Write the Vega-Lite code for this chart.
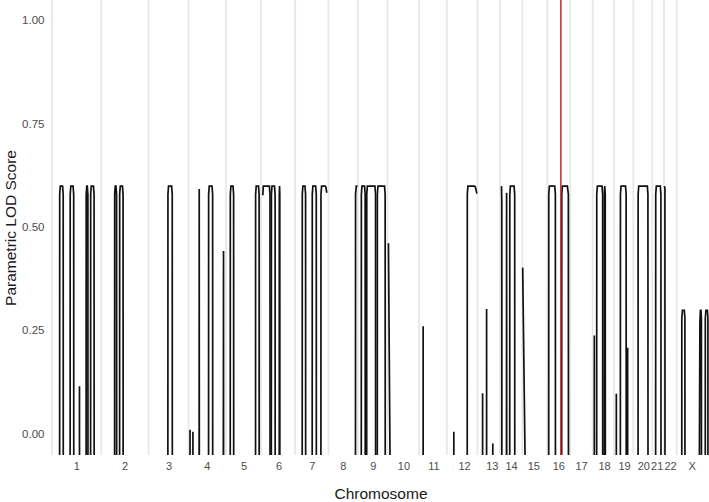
{
 "$schema": "https://vega.github.io/schema/vega-lite/v6.json",
 "width": 657, "height": 455,
 "autosize": {"type": "none"},
 "padding": {"left": 52, "top": 0, "right": 0, "bottom": 47},
 "background": "white",
 "config": {"view": {"stroke": null}, "font": "Liberation Sans", "axis": {"labelOverlap": false}},
 "datasets": {
  "bounds": [{"pos":51.7},{"pos":101},{"pos":148.3},{"pos":188.3},{"pos":225.7},{"pos":260.7},{"pos":295},{"pos":328.3},{"pos":357.7},{"pos":387.3},{"pos":419},{"pos":446.7},{"pos":477.3},{"pos":500},{"pos":522.3},{"pos":547.3},{"pos":570},{"pos":592.7},{"pos":614},{"pos":633.3},{"pos":652.3},{"pos":664},{"pos":676.7}],
  "marker": [{"pos":560.8}],
  "trace": [
   {"seg":1,"pos":59,"lod":-3},{"seg":1,"pos":59.4,"lod":0.58},{"seg":1,"pos":60,"lod":0.6},{"seg":1,"pos":62.3,"lod":0.6},{"seg":1,"pos":62.9,"lod":0.58},{"seg":1,"pos":63.3,"lod":-3},
   {"seg":2,"pos":69.5,"lod":-3},{"seg":2,"pos":69.9,"lod":0.58},{"seg":2,"pos":70.5,"lod":0.6},{"seg":2,"pos":72.8,"lod":0.6},{"seg":2,"pos":73.4,"lod":0.58},{"seg":2,"pos":73.8,"lod":-3},
   {"seg":3,"pos":79,"lod":-3},{"seg":3,"pos":79.2,"lod":0.116},{"seg":3,"pos":79.4,"lod":-3},
   {"seg":4,"pos":85.5,"lod":-3},{"seg":4,"pos":85.9,"lod":0.58},{"seg":4,"pos":86.5,"lod":0.6},{"seg":4,"pos":87,"lod":0.6},{"seg":4,"pos":87.6,"lod":0.58},{"seg":4,"pos":88,"lod":-3},
   {"seg":5,"pos":90,"lod":-3},{"seg":5,"pos":90.4,"lod":0.58},{"seg":5,"pos":91,"lod":0.6},{"seg":5,"pos":93.2,"lod":0.6},{"seg":5,"pos":93.8,"lod":0.58},{"seg":5,"pos":94.2,"lod":-3},
   {"seg":6,"pos":114,"lod":-3},{"seg":6,"pos":114.4,"lod":0.58},{"seg":6,"pos":115,"lod":0.6},{"seg":6,"pos":115.7,"lod":0.6},{"seg":6,"pos":116.3,"lod":0.58},{"seg":6,"pos":116.7,"lod":-3},
   {"seg":7,"pos":119,"lod":-3},{"seg":7,"pos":119.4,"lod":0.58},{"seg":7,"pos":120,"lod":0.6},{"seg":7,"pos":122.2,"lod":0.6},{"seg":7,"pos":122.8,"lod":0.58},{"seg":7,"pos":123.2,"lod":-3},
   {"seg":8,"pos":167.3,"lod":-3},{"seg":8,"pos":167.7,"lod":0.58},{"seg":8,"pos":168.3,"lod":0.6},{"seg":8,"pos":171.4,"lod":0.6},{"seg":8,"pos":172,"lod":0.58},{"seg":8,"pos":172.4,"lod":-3},
   {"seg":9,"pos":189.6,"lod":-3},{"seg":9,"pos":189.8,"lod":0.011},{"seg":9,"pos":190,"lod":-3},
   {"seg":10,"pos":192.5,"lod":-3},{"seg":10,"pos":192.7,"lod":0.006},{"seg":10,"pos":192.9,"lod":-3},
   {"seg":11,"pos":198.5,"lod":-3},{"seg":11,"pos":199,"lod":0.593},{"seg":11,"pos":199.5,"lod":-3},
   {"seg":12,"pos":208,"lod":-3},{"seg":12,"pos":208.4,"lod":0.58},{"seg":12,"pos":209,"lod":0.6},{"seg":12,"pos":211.8,"lod":0.6},{"seg":12,"pos":212.4,"lod":0.58},{"seg":12,"pos":212.8,"lod":-3},
   {"seg":13,"pos":222,"lod":-3},{"seg":13,"pos":223.3,"lod":0.443},{"seg":13,"pos":223.6,"lod":-3},
   {"seg":14,"pos":229.7,"lod":-3},{"seg":14,"pos":230.1,"lod":0.58},{"seg":14,"pos":230.7,"lod":0.6},{"seg":14,"pos":232.8,"lod":0.6},{"seg":14,"pos":233.4,"lod":0.58},{"seg":14,"pos":233.8,"lod":-3},
   {"seg":15,"pos":255,"lod":-3},{"seg":15,"pos":255.4,"lod":0.58},{"seg":15,"pos":256,"lod":0.6},{"seg":15,"pos":258.3,"lod":0.6},{"seg":15,"pos":258.9,"lod":0.58},{"seg":15,"pos":259.3,"lod":-3},
   {"seg":16,"pos":262.6,"lod":0.578},{"seg":16,"pos":263.1,"lod":0.6},{"seg":16,"pos":269.2,"lod":0.6},{"seg":16,"pos":269.8,"lod":0.58},{"seg":16,"pos":270.1,"lod":-3},
   {"seg":17,"pos":270.8,"lod":-3},{"seg":17,"pos":271.2,"lod":0.58},{"seg":17,"pos":271.8,"lod":0.6},{"seg":17,"pos":274.3,"lod":0.6},{"seg":17,"pos":274.9,"lod":0.58},{"seg":17,"pos":275.3,"lod":-3},
   {"seg":18,"pos":278.8,"lod":-3},{"seg":18,"pos":279.1,"lod":0.58},{"seg":18,"pos":279.35,"lod":0.6},{"seg":18,"pos":279.6,"lod":0.58},{"seg":18,"pos":279.9,"lod":-3},
   {"seg":19,"pos":301.7,"lod":-3},{"seg":19,"pos":302.1,"lod":0.58},{"seg":19,"pos":302.7,"lod":0.6},{"seg":19,"pos":304.8,"lod":0.6},{"seg":19,"pos":305.4,"lod":0.58},{"seg":19,"pos":305.8,"lod":-3},
   {"seg":20,"pos":311.7,"lod":-3},{"seg":20,"pos":312.1,"lod":0.58},{"seg":20,"pos":312.7,"lod":0.6},{"seg":20,"pos":315.5,"lod":0.6},{"seg":20,"pos":316.1,"lod":0.58},{"seg":20,"pos":316.5,"lod":-3},
   {"seg":21,"pos":320.4,"lod":-3},{"seg":21,"pos":320.8,"lod":0.58},{"seg":21,"pos":321.4,"lod":0.6},{"seg":21,"pos":325,"lod":0.6},{"seg":21,"pos":325.8,"lod":0.597},{"seg":21,"pos":326.3,"lod":0.588},{"seg":21,"pos":326.7,"lod":0.584},
   {"seg":22,"pos":355,"lod":-3},{"seg":22,"pos":355.4,"lod":0.58},{"seg":22,"pos":356.1,"lod":0.6},{"seg":22,"pos":357.4,"lod":0.6},
   {"seg":23,"pos":360.8,"lod":-3},{"seg":23,"pos":361.2,"lod":0.58},{"seg":23,"pos":361.8,"lod":0.6},{"seg":23,"pos":364.4,"lod":0.6},{"seg":23,"pos":365,"lod":0.58},{"seg":23,"pos":365.4,"lod":-3},
   {"seg":24,"pos":366.2,"lod":-3},{"seg":24,"pos":366.6,"lod":0.58},{"seg":24,"pos":367.2,"lod":0.6},{"seg":24,"pos":374.8,"lod":0.6},{"seg":24,"pos":375.4,"lod":0.58},{"seg":24,"pos":375.8,"lod":-3},
   {"seg":25,"pos":376.8,"lod":-3},{"seg":25,"pos":377.2,"lod":0.58},{"seg":25,"pos":377.8,"lod":0.6},{"seg":25,"pos":384.4,"lod":0.6},{"seg":25,"pos":385,"lod":0.58},{"seg":25,"pos":385.4,"lod":-3},
   {"seg":26,"pos":388.3,"lod":0.462},{"seg":26,"pos":390,"lod":-0.1},{"seg":26,"pos":390.1,"lod":-3},
   {"seg":27,"pos":422.8,"lod":-3},{"seg":27,"pos":423,"lod":0.261},{"seg":27,"pos":423.2,"lod":-3},
   {"seg":28,"pos":453.5,"lod":-3},{"seg":28,"pos":453.7,"lod":0.006},{"seg":28,"pos":453.9,"lod":-3},
   {"seg":29,"pos":466.8,"lod":-3},{"seg":29,"pos":467.2,"lod":0.58},{"seg":29,"pos":467.8,"lod":0.6},{"seg":29,"pos":474.6,"lod":0.6},{"seg":29,"pos":475.5,"lod":0.596},{"seg":29,"pos":476.2,"lod":0.588},{"seg":29,"pos":476.8,"lod":0.582},
   {"seg":30,"pos":482.3,"lod":-3},{"seg":30,"pos":482.5,"lod":0.099},{"seg":30,"pos":482.7,"lod":-3},
   {"seg":31,"pos":486.3,"lod":-3},{"seg":31,"pos":486.5,"lod":0.303},{"seg":31,"pos":486.7,"lod":-3},
   {"seg":32,"pos":492.5,"lod":-3},{"seg":32,"pos":492.7,"lod":-0.022},{"seg":32,"pos":492.9,"lod":-3},
   {"seg":33,"pos":501.4,"lod":0.6},{"seg":33,"pos":501.7,"lod":0.565},{"seg":33,"pos":502,"lod":-3},
   {"seg":34,"pos":505.9,"lod":-3},{"seg":34,"pos":506.5,"lod":0.584},{"seg":34,"pos":507.1,"lod":-3},
   {"seg":35,"pos":509.3,"lod":-3},{"seg":35,"pos":509.7,"lod":0.58},{"seg":35,"pos":510.3,"lod":0.6},{"seg":35,"pos":514,"lod":0.6},{"seg":35,"pos":514.6,"lod":0.58},{"seg":35,"pos":515,"lod":-3},
   {"seg":36,"pos":522.6,"lod":0.403},{"seg":36,"pos":525,"lod":-0.06},{"seg":36,"pos":525.1,"lod":-3},
   {"seg":37,"pos":548.3,"lod":-3},{"seg":37,"pos":548.7,"lod":0.58},{"seg":37,"pos":549.3,"lod":0.6},{"seg":37,"pos":554.7,"lod":0.6},{"seg":37,"pos":555.3,"lod":0.58},{"seg":37,"pos":555.7,"lod":-3},
   {"seg":38,"pos":561.3,"lod":-3},{"seg":38,"pos":561.7,"lod":0.58},{"seg":38,"pos":562.3,"lod":0.6},{"seg":38,"pos":567.3,"lod":0.6},{"seg":38,"pos":568.3,"lod":0.58},{"seg":38,"pos":568.8,"lod":-3},
   {"seg":39,"pos":594.1,"lod":-3},{"seg":39,"pos":594.3,"lod":0.239},{"seg":39,"pos":594.5,"lod":-3},
   {"seg":40,"pos":596.3,"lod":-3},{"seg":40,"pos":596.7,"lod":0.58},{"seg":40,"pos":597.3,"lod":0.6},{"seg":40,"pos":602,"lod":0.6},{"seg":40,"pos":602.6,"lod":0.58},{"seg":40,"pos":603,"lod":-3},
   {"seg":41,"pos":603.8,"lod":-3},{"seg":41,"pos":604.2,"lod":0.58},{"seg":41,"pos":604.7,"lod":0.6},{"seg":41,"pos":605.2,"lod":0.58},{"seg":41,"pos":605.6,"lod":-3},
   {"seg":42,"pos":616.1,"lod":-3},{"seg":42,"pos":616.3,"lod":0.098},{"seg":42,"pos":616.5,"lod":-3},
   {"seg":43,"pos":620,"lod":-3},{"seg":43,"pos":620.4,"lod":0.58},{"seg":43,"pos":621,"lod":0.6},{"seg":43,"pos":625.5,"lod":0.6},{"seg":43,"pos":626.1,"lod":0.58},{"seg":43,"pos":626.5,"lod":-3},
   {"seg":44,"pos":627.4,"lod":-3},{"seg":44,"pos":627.6,"lod":0.209},{"seg":44,"pos":627.8,"lod":-3},
   {"seg":45,"pos":637.7,"lod":-3},{"seg":45,"pos":638.1,"lod":0.58},{"seg":45,"pos":638.7,"lod":0.6},{"seg":45,"pos":647.3,"lod":0.6},{"seg":45,"pos":647.9,"lod":0.58},{"seg":45,"pos":648.3,"lod":-3},
   {"seg":46,"pos":655.3,"lod":-3},{"seg":46,"pos":655.7,"lod":0.58},{"seg":46,"pos":656.3,"lod":0.6},{"seg":46,"pos":660.3,"lod":0.6},{"seg":46,"pos":660.9,"lod":0.58},{"seg":46,"pos":661.3,"lod":-3},
   {"seg":47,"pos":664.4,"lod":0.6},{"seg":47,"pos":664.9,"lod":0.595},{"seg":47,"pos":665.3,"lod":-3},
   {"seg":48,"pos":681.5,"lod":-3},{"seg":48,"pos":681.8,"lod":0.28},{"seg":48,"pos":682.4,"lod":0.3},{"seg":48,"pos":684.3,"lod":0.3},{"seg":48,"pos":684.9,"lod":0.28},{"seg":48,"pos":685.3,"lod":-3},
   {"seg":49,"pos":699,"lod":-0.3},{"seg":49,"pos":699.9,"lod":0.27},{"seg":49,"pos":700.4,"lod":0.3},{"seg":49,"pos":701,"lod":0.3},{"seg":49,"pos":701.4,"lod":0.28},{"seg":49,"pos":701.8,"lod":-3},
   {"seg":50,"pos":705,"lod":-3},{"seg":50,"pos":705.3,"lod":0.28},{"seg":50,"pos":705.9,"lod":0.3},{"seg":50,"pos":707.4,"lod":0.3},{"seg":50,"pos":707.9,"lod":0.28},{"seg":50,"pos":708.3,"lod":-3}
  ]
 },
 "encoding": {
  "x": {
   "field": "pos", "type": "quantitative",
   "scale": {"domain": [51.7, 709], "nice": false, "zero": false},
   "axis": {
    "title": "Chromosome",
    "values": [76, 124.3, 168.3, 206.7, 243.3, 278.3, 311.7, 342.7, 372.7, 403.3, 433.3, 464, 491.7, 511, 533.3, 558.3, 581, 604, 624, 643.3, 656.7, 670, 691.7],
    "labelExpr": "['1','2','3','4','5','6','7','8','9','10','11','12','13','14','15','16','17','18','19','20','21','22','X'][indexof([76, 124.3, 168.3, 206.7, 243.3, 278.3, 311.7, 342.7, 372.7, 403.3, 433.3, 464, 491.7, 511, 533.3, 558.3, 581, 604, 624, 643.3, 656.7, 670, 691.7], datum.value)]",
    "domain": false, "ticks": false, "grid": false,
    "labelOverlap": false, "labelBound": false, "labelFlush": false,
    "labelFontSize": 11, "labelColor": "#4d4d4d", "labelPadding": 5,
    "titleFontSize": 15.5, "titleFontWeight": "normal", "titleColor": "#1a1a1a", "titlePadding": 15
   }
  }
 },
 "layer": [
  {
   "data": {"name": "bounds"},
   "mark": {"type": "rule", "color": "#e8e8e8", "strokeWidth": 1.8}
  },
  {
   "data": {"name": "trace"},
   "mark": {"type": "line", "clip": true, "color": "#111111", "strokeWidth": 1.7},
   "encoding": {
    "y": {
     "field": "lod", "type": "quantitative",
     "scale": {"domain": [-0.05, 1.05], "nice": false, "zero": false},
     "axis": {
      "title": "Parametric LOD Score",
      "values": [0, 0.25, 0.5, 0.75, 1],
      "format": ".2f",
      "domain": false, "ticks": false, "grid": false,
      "labelFontSize": 11.5, "labelColor": "#4d4d4d", "labelPadding": 8,
      "titleFontSize": 15.5, "titleFontWeight": "normal", "titleColor": "#1a1a1a", "titlePadding": 3
     }
    },
    "detail": {"field": "seg"}
   }
  },
  {
   "data": {"name": "marker"},
   "mark": {"type": "rule", "color": "#c0282d", "strokeWidth": 1.5}
  }
 ]
}
